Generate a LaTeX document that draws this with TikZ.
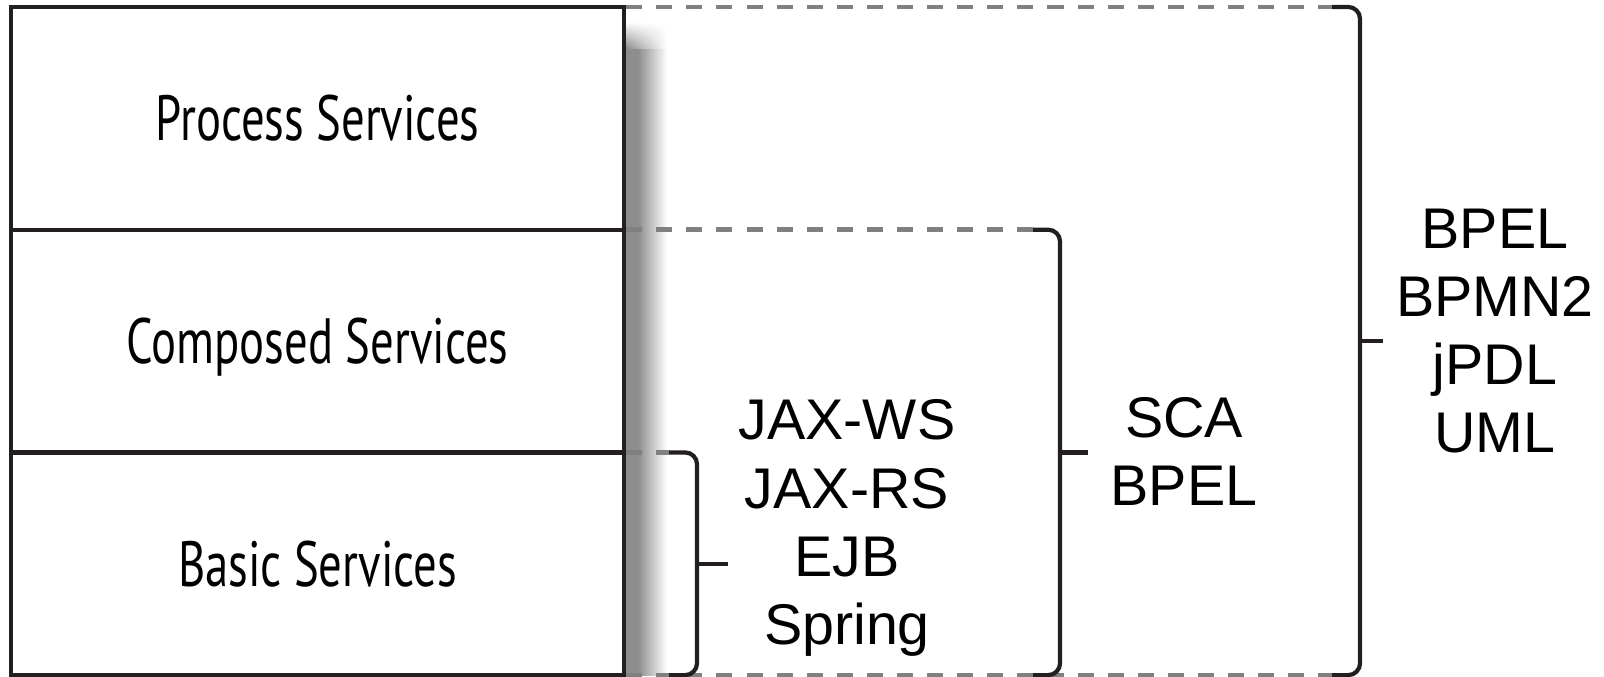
\documentclass[tikz,border=0pt]{standalone}
\usepackage{fontspec}
\setmainfont{Liberation Sans}
\newfontfamily\condfont[FakeStretch=0.73]{PT Sans}
\usetikzlibrary{positioning,fadings}
\definecolor{layerline}{HTML}{231F20}
\definecolor{guidegray}{HTML}{808080}
\definecolor{shadowgray}{HTML}{8D8D8F}

\begin{document}
\begin{tikzpicture}[x=0.025cm, y=0.025cm,
    layer/.style={draw=layerline, line width=3pt, minimum width=436pt, minimum height=158.4pt,
      inner sep=0pt, outer sep=0pt, font=\condfont\fontsize{45.5pt}{52pt}\selectfont, text height=31.8pt, text depth=0pt},
    guide/.style={guidegray, line width=3.3pt, dash pattern=on 11.4pt off 10pt},
    bracket/.style={layerline, line width=3pt, rounded corners=8.5pt},
    techlist/.style={align=center, inner sep=0pt, font=\fontsize{40.8pt}{48.4pt}\selectfont}]
    \useasboundingbox (0,0) rectangle (1604,-677);
    % shadow behind the stack
    \fill[shadowgray] (626,-48) rectangle (638,-675);
    \shade[left color=shadowgray, right color=white] (638,-48) rectangle (667,-675);
    \shade[left color=shadowgray, right color=white, path fading=north] (626,-22) rectangle (667,-48);
    % layers
    \node[layer] (process) at (317.5,-118.3) {Process Services};
    \node[layer, below=0pt of process] (composed) {Composed Services};
    \node[layer, below=0pt of composed] (basic) {Basic Services};
    % dashed guides
    \draw[guide, shorten <=1.5pt] (process.north east) -- ++(708,0) coordinate (bpmtop);
    \draw[guide, shorten <=1.5pt] (composed.north east) -- ++(409,0) coordinate (scatop);
    \draw[guide, shorten <=1.5pt] (basic.north east) -- ++(45,0) coordinate (jaxtop);
    \draw[guide, shorten <=1.5pt] (basic.south east) -- (bpmtop |- basic.south);
    % brackets
    \draw[bracket] (jaxtop) -- ++(28,0) coordinate (jaxedge) -- (jaxedge |- basic.south) coordinate[pos=0.5] (jaxmid) -- ++(-28,0);
    \draw[bracket] (scatop) -- ++(27,0) coordinate (scaedge) -- (scaedge |- basic.south) coordinate[pos=0.5] (scamid) -- ++(-27,0);
    \draw[bracket] (bpmtop) -- ++(28,0) coordinate (bpmedge) -- (bpmedge |- basic.south) coordinate[pos=0.5] (bpmmid) -- ++(-28,0);
    \draw[bracket] (jaxmid) -- ++(31,0);
    \draw[bracket] (scamid) -- ++(28,0);
    \draw[bracket] (bpmmid) -- ++(23,0);
    % technologies
    \node[techlist] (jaxlist) at (847,-528) {JAX-WS\\JAX-RS\\EJB\\Spring};
    \node[techlist] (scalist) at (1184,-451.5) {SCA\\BPEL};
    \node[techlist] (bpmlist) at (1495,-331) {BPEL\\BPMN2\\jPDL\\UML};
\end{tikzpicture}
\end{document}
